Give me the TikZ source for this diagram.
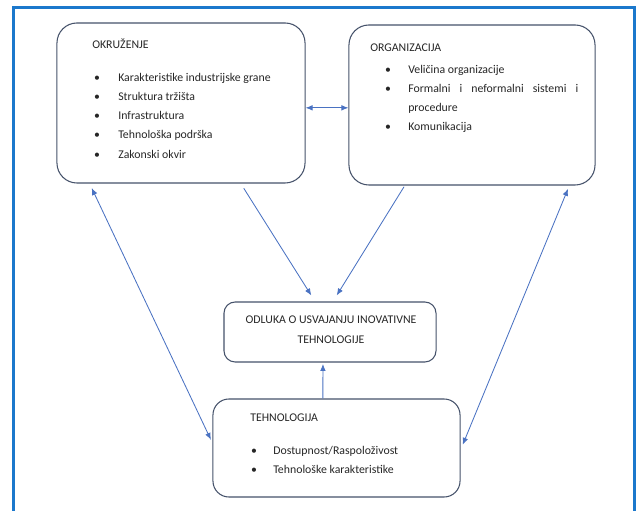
\documentclass[tikz,border=0pt]{standalone}
\usepackage{fontspec}
\setmainfont{Carlito}
\usetikzlibrary{arrows.meta, calc}
\definecolor{framecol}{HTML}{1B78CC}
\definecolor{boxcol}{HTML}{45526A}
\definecolor{arrowcol}{HTML}{4A72C2}
\definecolor{textcol}{HTML}{262626}
\tikzset{
 box/.style={draw=boxcol, line width=0.75pt, inner sep=0pt},
 txt/.style={anchor=base west, inner sep=0pt, text=textcol, font=\fontsize{8.4}{10}\selectfont},
 ctxt/.style={anchor=base, inner sep=0pt, text=textcol, font=\fontsize{8.4}{10}\selectfont},
 link/.style={draw=arrowcol, line width=0.6pt, >={Latex[length=5pt,width=4pt]}}
}
\begin{document}
\begin{tikzpicture}[x=0.025cm, y=-0.025cm]
 \useasboundingbox (0,0) rectangle (641,511);
 \draw[framecol, line width=2.2pt] (13.5,512) -- (13.5,7.5) -- (634.5,7.5) -- (634.5,512);
 % boxes
 \node[box, rounded corners=0.5cm, minimum width=6.2cm, minimum height=4cm] (okr) at (181,103) {};
 \node[box, rounded corners=0.5cm, minimum width=6.15cm, minimum height=4cm] (org) at (472,105) {};
 \node[box, rounded corners=0.28cm, minimum width=5.3cm, minimum height=1.5cm] (odl) at (330,332) {};
 \node[box, rounded corners=0.4cm, minimum width=6.175cm, minimum height=2.45cm] (teh) at (336.5,448) {};
 % okruzenje
 \node[txt] (okrT) at (92,49) {OKRUŽENJE};
 \node[ctxt] (okrb1) at (97,82) {\textbullet};
 \node[ctxt] (okrb2) at (97,101) {\textbullet};
 \node[ctxt] (okrb3) at (97,120) {\textbullet};
 \node[ctxt] (okrb4) at (97,139) {\textbullet};
 \node[ctxt] (okrb5) at (97,159) {\textbullet};
 \node[txt] (okr1) at (118,82) {Karakteristike industrijske grane};
 \node[txt] (okr2) at (118,101) {Struktura tržišta};
 \node[txt] (okr3) at (118,120) {Infrastruktura};
 \node[txt] (okr4) at (118,139) {Tehnološka podrška};
 \node[txt] (okr5) at (118,159) {Zakonski okvir};
 % organizacija
 \node[txt] (orgT) at (370,52) {ORGANIZACIJA};
 \node[ctxt] (orgb1) at (388,74) {\textbullet};
 \node[ctxt] (orgb2) at (388,93) {\textbullet};
 \node[ctxt] (orgb3) at (388,131) {\textbullet};
 \node[txt] (org1) at (408,74) {Veličina organizacije};
 \node[txt] (org2) at (408,93) {\makebox[4.25cm][s]{Formalni i neformalni sistemi i}};
 \node[txt] (org2b) at (408,112) {procedure};
 \node[txt] (org3) at (408,131) {Komunikacija};
 % odluka
 \node[ctxt] (odl1) at (331,324) {ODLUKA O USVAJANJU INOVATIVNE};
 \node[ctxt] (odl2) at (331,344) {TEHNOLOGIJE};
 % tehnologija
 \node[txt] (tehT) at (250,422) {TEHNOLOGIJA};
 \node[ctxt] (tehb1) at (254,455) {\textbullet};
 \node[ctxt] (tehb2) at (254,474) {\textbullet};
 \node[txt] (teh1) at (273,455) {Dostupnost/Raspoloživost};
 \node[txt] (teh2) at (273,474) {Tehnološke karakteristike};
 % arrows
 \coordinate (okrE) at ($(okr.north east)!0.53!(okr.south east)$);
 \draw[link, <->] (okrE) -- (okrE -| org.west);
 \draw[link, ->, shorten <=4pt, shorten >=5pt] ($(okr.south west)!0.74!(okr.south east)$) -- ($(odl.north west)!0.43!(odl.north east)$);
 \draw[link, ->, shorten <=1pt, shorten >=5pt] ($(org.south west)!0.228!(org.south east)$) -- ($(odl.north west)!0.514!(odl.north east)$);
 \draw[link, ->, shorten >=1pt] ($(teh.north west)!0.445!(teh.north east)$) -- ($(odl.south west)!0.467!(odl.south east)$);
 \draw[link, <->, shorten <=3.5pt, shorten >=2.5pt] ($(okr.south west)!0.133!(okr.south east)$) -- ($(teh.north west)!0.45!(teh.south west)$);
 \draw[link, <->, shorten <=2.5pt, shorten >=4pt] ($(org.south west)!0.894!(org.south east)$) -- ($(teh.north east)!0.52!(teh.south east)$);
\end{tikzpicture}
\end{document}
